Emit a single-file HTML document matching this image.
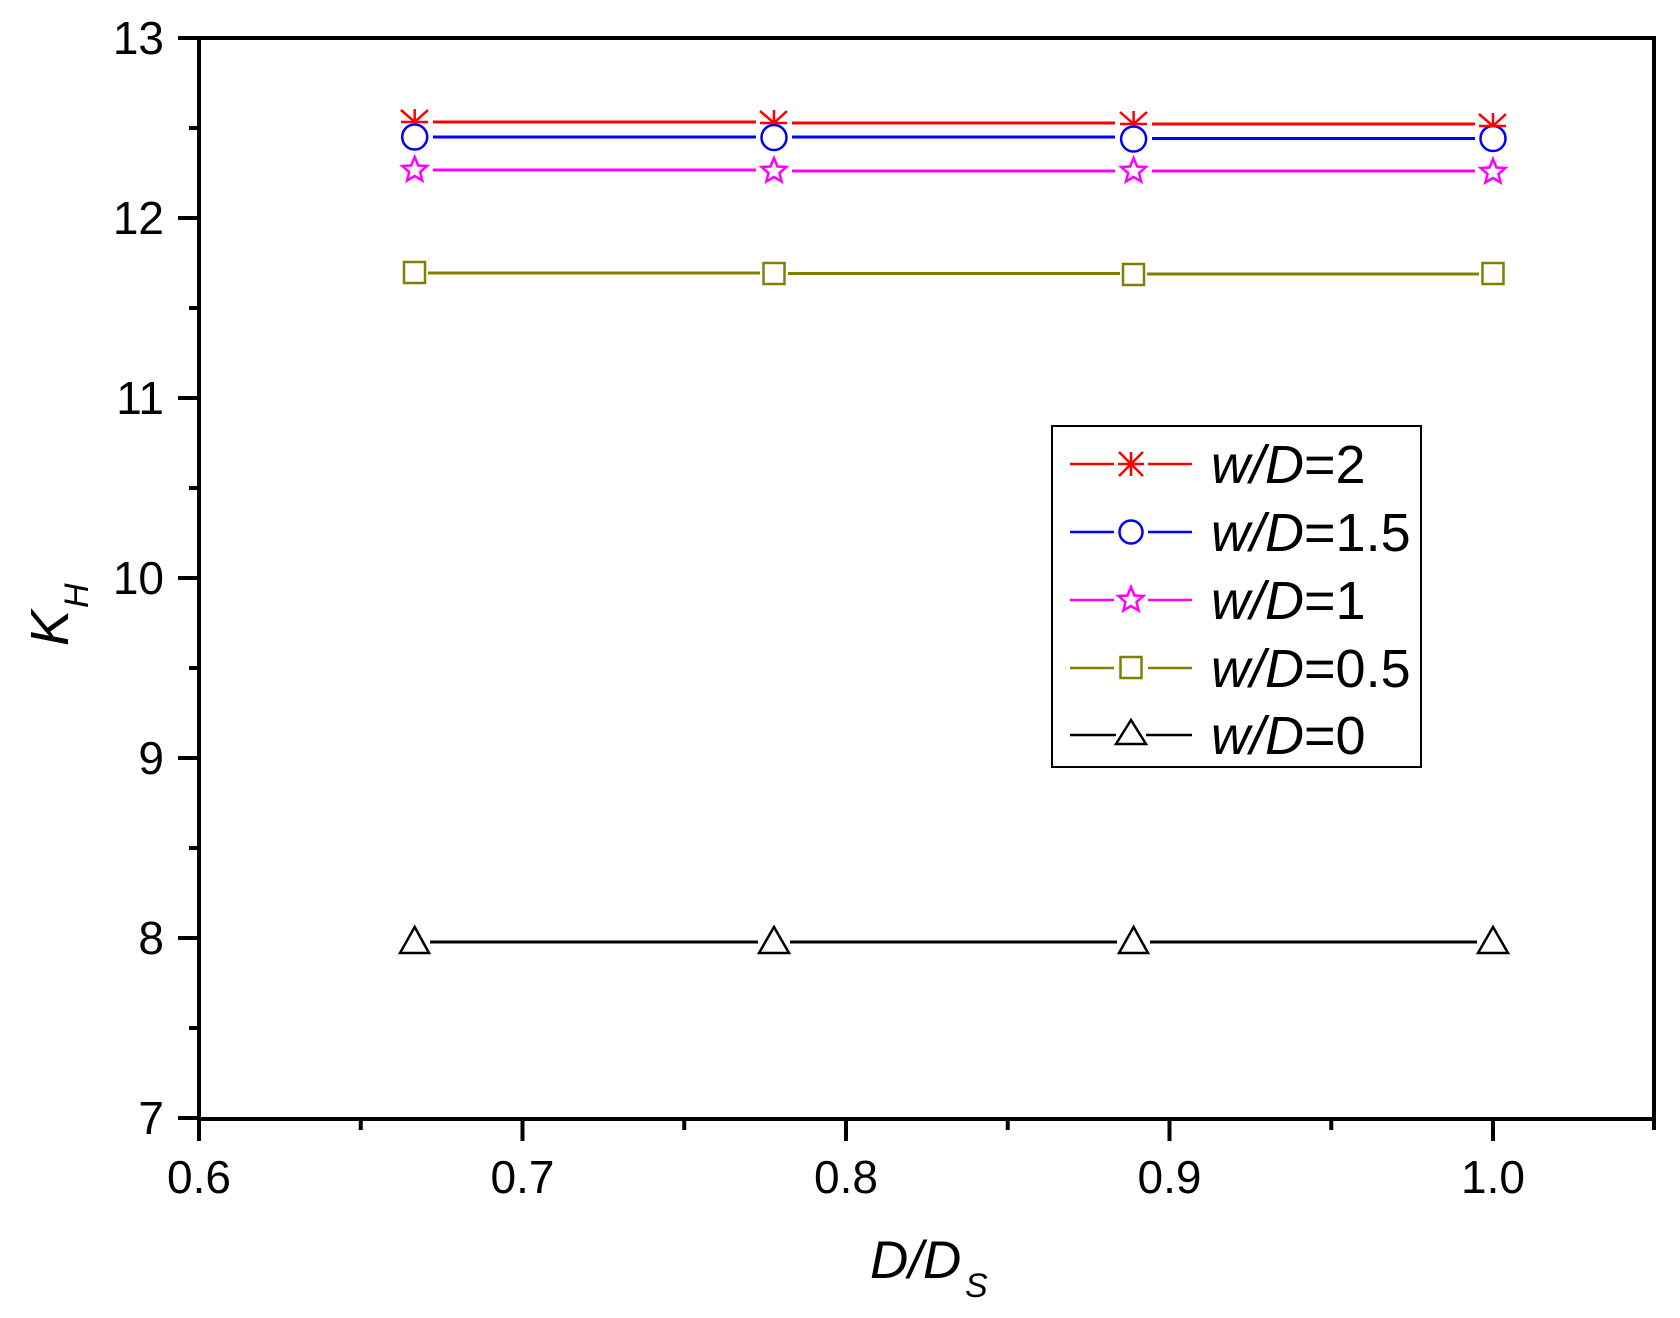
<!DOCTYPE html>
<html><head><meta charset="utf-8"><style>html,body{margin:0;padding:0;background:#fff}svg{display:block}</style></head>
<body>
<svg width="1680" height="1318" viewBox="0 0 1680 1318" xmlns="http://www.w3.org/2000/svg" font-family="Liberation Sans, Arial, sans-serif">
<rect width="1680" height="1318" fill="#fff"/>
<rect x="199" y="38" width="1455" height="1081" fill="none" stroke="#000" stroke-width="4"/>
<g stroke="#000" stroke-width="4">
<line x1="178" y1="38" x2="199" y2="38"/>
<line x1="178" y1="218" x2="199" y2="218"/>
<line x1="178" y1="398" x2="199" y2="398"/>
<line x1="178" y1="578" x2="199" y2="578"/>
<line x1="178" y1="758" x2="199" y2="758"/>
<line x1="178" y1="938" x2="199" y2="938"/>
<line x1="178" y1="1118" x2="199" y2="1118"/>
<line x1="189" y1="128" x2="199" y2="128"/>
<line x1="189" y1="308" x2="199" y2="308"/>
<line x1="189" y1="488" x2="199" y2="488"/>
<line x1="189" y1="668" x2="199" y2="668"/>
<line x1="189" y1="848" x2="199" y2="848"/>
<line x1="189" y1="1028" x2="199" y2="1028"/>
<line x1="199" y1="1119" x2="199" y2="1141"/>
<line x1="522.5" y1="1119" x2="522.5" y2="1141"/>
<line x1="846" y1="1119" x2="846" y2="1141"/>
<line x1="1169.5" y1="1119" x2="1169.5" y2="1141"/>
<line x1="1493" y1="1119" x2="1493" y2="1141"/>
<line x1="360.75" y1="1119" x2="360.75" y2="1130"/>
<line x1="684.25" y1="1119" x2="684.25" y2="1130"/>
<line x1="1007.75" y1="1119" x2="1007.75" y2="1130"/>
<line x1="1331.25" y1="1119" x2="1331.25" y2="1130"/>
<line x1="1654" y1="1119" x2="1654" y2="1130"/>
</g>
<g font-size="46" fill="#000" text-anchor="end">
<text x="164" y="54">13</text>
<text x="164" y="234">12</text>
<text x="164" y="414">11</text>
<text x="164" y="594">10</text>
<text x="164" y="774">9</text>
<text x="164" y="954">8</text>
<text x="164" y="1134">7</text>
</g>
<g font-size="46" fill="#000" text-anchor="middle">
<text x="199" y="1193">0.6</text>
<text x="522.5" y="1193">0.7</text>
<text x="846" y="1193">0.8</text>
<text x="1169.5" y="1193">0.9</text>
<text x="1493" y="1193">1.0</text>
</g>
<text x="870" y="1278" font-size="53" font-style="italic">D/D</text>
<text x="965" y="1297" font-size="34" font-style="italic">S</text>
<g transform="translate(68,646) rotate(-90)">
<text x="0" y="0" font-size="54" font-style="italic">K</text>
<text x="38" y="20" font-size="34" font-style="italic">H</text>
</g>
<g fill="none" stroke-width="2.5">
<g stroke="#000">
<path d="M430,942 H758 M790,942 H1117 M1150,942 H1477" stroke-width="3"/>
<polygon points="414.7,927 400,953 429,953"/>
<polygon points="774,927 759,953 789,953"/>
<polygon points="1133.6,927 1119,953 1148,953"/>
<polygon points="1493,927 1478,953 1508,953"/>
</g>
<g stroke="#808000">
<path d="M428,273 H760 M788,273.5 H1120 M1147,274 H1479" stroke-width="3"/>
<rect x="404" y="262" width="21" height="21"/>
<rect x="763.5" y="263" width="21" height="21"/>
<rect x="1123" y="264" width="21" height="21"/>
<rect x="1482.5" y="263" width="21" height="21"/>
</g>
<g stroke="#ff00ff">
<path d="M433,170 H756 M792,171 H1115 M1152,171 H1475" stroke-width="3"/>
<polygon points="0,-13 3.5,-4.5 12.4,-4 5.5,2 7.6,10.5 0,6 -7.6,10.5 -5.5,2 -12.4,-4 -3.5,-4.5" transform="translate(414.7,170)"/>
<polygon points="0,-13 3.5,-4.5 12.4,-4 5.5,2 7.6,10.5 0,6 -7.6,10.5 -5.5,2 -12.4,-4 -3.5,-4.5" transform="translate(774,171)"/>
<polygon points="0,-13 3.5,-4.5 12.4,-4 5.5,2 7.6,10.5 0,6 -7.6,10.5 -5.5,2 -12.4,-4 -3.5,-4.5" transform="translate(1133.6,171)"/>
<polygon points="0,-13 3.5,-4.5 12.4,-4 5.5,2 7.6,10.5 0,6 -7.6,10.5 -5.5,2 -12.4,-4 -3.5,-4.5" transform="translate(1493,172)"/>
</g>
<g stroke="#0000ff">
<path d="M433,137 H756 M792,137 H1115 M1152,138.5 H1475" stroke-width="3"/>
<circle cx="414.7" cy="137" r="12.5"/>
<circle cx="774" cy="137.5" r="12.5"/>
<circle cx="1133.6" cy="139" r="12.5"/>
<circle cx="1493" cy="138.5" r="12.5"/>
</g>
<g stroke="#ff0000">
<path d="M433,122 H756 M792,123 H1115 M1152,124 H1475" stroke-width="3"/>
<path d="M414.7,109 V122 M401,110 L414.7,122 L428,110 M401,122 H428"/>
<path d="M774,110 V123 M760,111 L774,123 L787,111 M760,123 H787"/>
<path d="M1133.6,111 V124 M1120,112 L1133.6,124 L1147,112 M1120,124 H1147"/>
<path d="M1493,113 V126 M1479,114 L1493,126 L1506,114 M1479,126 H1506"/>
</g>
</g>
<rect x="1052" y="426" width="369" height="341" fill="#fff" stroke="#000" stroke-width="2"/>
<g fill="none" stroke-width="2.5">
<g stroke="#ff0000"><path d="M1070,464 H1114 M1148,464 H1192 M1131,452 V476 M1119,452 L1143,476 M1143,452 L1119,476 M1118,464 H1144"/></g>
<g stroke="#0000ff"><path d="M1070,532 H1114 M1148,532 H1192"/><circle cx="1131" cy="532" r="11.5"/></g>
<g stroke="#ff00ff"><path d="M1070,600 H1114 M1148,600 H1192"/><polygon points="0,-13 3.5,-4.5 12.4,-4 5.5,2 7.6,10.5 0,6 -7.6,10.5 -5.5,2 -12.4,-4 -3.5,-4.5" transform="translate(1131,600)"/></g>
<g stroke="#808000"><path d="M1070,668 H1114 M1148,668 H1192"/><rect x="1120.5" y="657" width="21" height="21"/></g>
<g stroke="#000"><path d="M1070,735 H1116 M1146,735 H1192"/><polygon points="1131,720 1116,744 1146,744"/></g>
</g>
<g font-size="54" fill="#000">
<text x="1211" y="483"><tspan font-style="italic">w/D</tspan>=2</text>
<text x="1211" y="551"><tspan font-style="italic">w/D</tspan>=1.5</text>
<text x="1211" y="619"><tspan font-style="italic">w/D</tspan>=1</text>
<text x="1211" y="687"><tspan font-style="italic">w/D</tspan>=0.5</text>
<text x="1211" y="754"><tspan font-style="italic">w/D</tspan>=0</text>
</g>
</svg>
</body></html>
